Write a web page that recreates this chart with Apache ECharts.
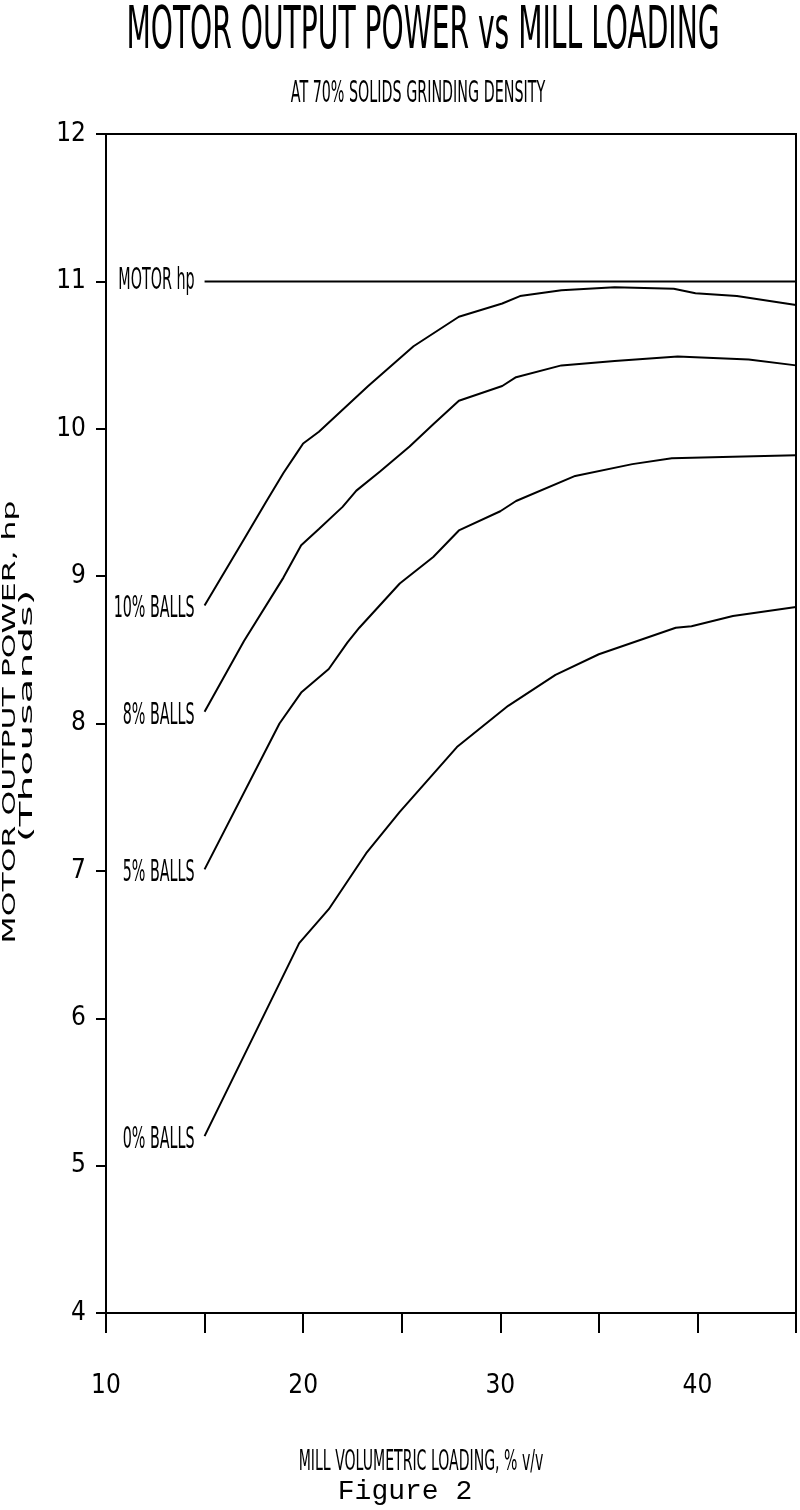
<!DOCTYPE html>
<html>
<head>
<meta charset="utf-8">
<title>Motor output power vs mill loading</title>
<script src="https://cdn.jsdelivr.net/npm/echarts@6/dist/echarts.min.js"></script>
<style>
    html, body {margin: 0; padding: 0; background: #fff;}
    #chart-container {width: 800px; height: 1510px;}
</style>
</head>
<body>
<div id="chart-container"></div>
<script>
// values: [mill loading % v/v, power in thousands hp]
var NAME_MOTOR = 'MOTOR hp';
var NAME_10 = '10% BALLS';
var NAME_8 = '8% BALLS';
var NAME_5 = '5% BALLS';
var NAME_0 = '0% BALLS';

var motor_hp = [[15, 11.0], [45, 11.0]];
var balls_10 = [[15, 8.80], [17, 9.25], [18.1, 9.50], [19, 9.70], [19.7, 9.84], [20, 9.90], [20.8, 9.98],
    [23.3, 10.29], [25.6, 10.56], [27.9, 10.76], [30.1, 10.85], [31, 10.90], [33.1, 10.94],
    [35.8, 10.96], [38.8, 10.95], [39.9, 10.92], [42, 10.90], [45, 10.84]];
var balls_8 = [[15, 8.08], [17, 8.56], [19, 8.99], [19.9, 9.21], [20.8, 9.32], [22, 9.47], [22.7, 9.58],
    [23.9, 9.71], [25.4, 9.88], [26.6, 10.03], [27.9, 10.19], [30.1, 10.29], [30.8, 10.35],
    [33.1, 10.43], [35.8, 10.46], [39, 10.49], [42.6, 10.47], [45, 10.43]];
var balls_5 = [[15, 7.01], [18.8, 8.00], [19.9, 8.21], [21.3, 8.37], [22.25, 8.55], [22.85, 8.65],
    [24.9, 8.95], [26.6, 9.13], [27.9, 9.31], [30, 9.44], [30.8, 9.51], [33.8, 9.68], [36.7, 9.76],
    [38.7, 9.80], [41.8, 9.81], [45, 9.82]];
var balls_0 = [[15, 5.20], [19.8, 6.51], [21.3, 6.74], [23.2, 7.12], [24.9, 7.40], [27.8, 7.84],
    [30.4, 8.12], [32.8, 8.33], [35, 8.47], [38.9, 8.65], [39.7, 8.66], [41.8, 8.73], [45, 8.79]];

var x_labels = [10, 20, 30, 40];

var NARROW = '"Liberation Sans Narrow", "DejaVu Sans Condensed", sans-serif';
var myChart = null;

function narrowText(text, x, y, size, scale, align, family, rotation) {
    return {
        type: 'text',
        x: x,
        y: y,
        scaleX: scale,
        rotation: rotation || 0,
        silent: true,
        style: {
            text: text,
            font: size + 'px ' + (family || NARROW),
            fill: '#000',
            textAlign: align,
            textVerticalAlign: 'middle',
            align: align,
            verticalAlign: 'middle'
        }
    };
}

function curve(name, data) {
    return {
        name: name,
        type: 'line',
        data: data,
        showSymbol: false,
        symbol: 'none',
        silent: true,
        animation: false,
        lineStyle: {color: '#000', width: 2}
    };
}

function initChart() {
    myChart = echarts.init(document.getElementById('chart-container'));
    var option = {
        backgroundColor: '#fff',
        animation: false,
        grid: {
            left: 106,
            right: 4,
            top: 134,
            bottom: 197,
            show: true,
            borderColor: '#000',
            borderWidth: 2
        },
        xAxis: {
            type: 'value',
            min: 10,
            max: 45,
            interval: 5,
            axisLine: {lineStyle: {color: '#000', width: 2}},
            axisTick: {length: 20, lineStyle: {color: '#000', width: 2}},
            splitLine: {show: false},
            axisLabel: {
                color: '#000',
                fontFamily: NARROW,
                fontSize: 26,
                margin: 60,
                formatter: function (v) {
                    return x_labels.indexOf(v) >= 0 ? String(v) : '';
                }
            }
        },
        yAxis: {
            type: 'value',
            min: 4,
            max: 12,
            interval: 1,
            axisLine: {show: true, lineStyle: {color: '#000', width: 2}},
            axisTick: {show: true, length: 10, lineStyle: {color: '#000', width: 2}},
            splitLine: {show: false},
            axisLabel: {
                color: '#000',
                fontFamily: NARROW,
                fontSize: 26,
                margin: 20
            }
        },
        graphic: [
            narrowText('MOTOR OUTPUT POWER vs MILL LOADING', 423, 33, 58, 0.54, 'center'),
            narrowText('AT 70% SOLIDS GRINDING DENSITY', 418, 94, 30, 0.53, 'center'),
            narrowText('MILL VOLUMETRIC LOADING, % v/v', 421, 1462, 29, 0.54, 'center'),
            narrowText('Figure 2', 405, 1492, 28, 1, 'center', '"Liberation Mono", monospace'),
            narrowText('MOTOR OUTPUT POWER, hp', 10, 722, 18, 1.75, 'center', '"DejaVu Sans", sans-serif', Math.PI / 2),
            narrowText('(Thousands)', 28, 716, 17, 2.4, 'center', '"DejaVu Sans", sans-serif', Math.PI / 2)
        ],
        series: [
            curve(NAME_MOTOR, motor_hp),
            curve(NAME_10, balls_10),
            curve(NAME_8, balls_8),
            curve(NAME_5, balls_5),
            curve(NAME_0, balls_0)
        ]
    };
    myChart.setOption(option);

    // names written just left of where each curve starts
    var starts = [[NAME_MOTOR, motor_hp, 0], [NAME_10, balls_10, 4], [NAME_8, balls_8, 4],
        [NAME_5, balls_5, 4], [NAME_0, balls_0, 4]];
    var labels = [];
    starts.forEach(function (item) {
        var p = myChart.convertToPixel({gridIndex: 0}, item[1][0]);
        labels.push(narrowText(item[0], p[0] - 10, p[1] + item[2], 30, 0.53, 'right'));
    });
    myChart.setOption({graphic: option.graphic.concat(labels)});
}

initChart();
</script>
</body>
</html>
